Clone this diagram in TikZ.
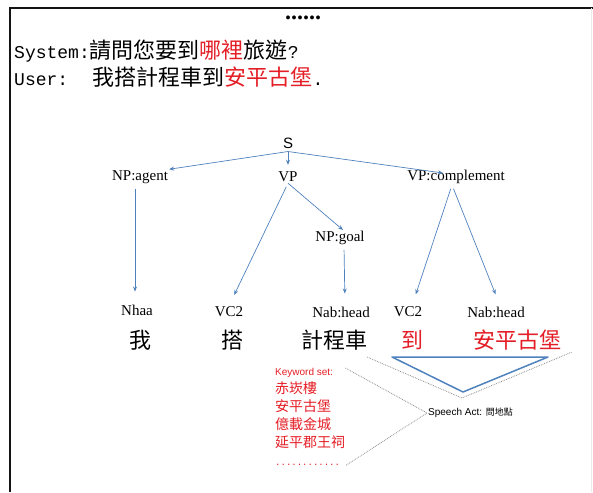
\documentclass[tikz,border=0pt]{standalone}
\usepackage{fontspec}
\setmainfont{Liberation Serif}
\setsansfont{Liberation Sans}
\newfontfamily\mono{Liberation Mono}
\newfontfamily\cjk{Noto Sans CJK TC}
\usetikzlibrary{positioning,arrows.meta,calc}
\definecolor{tsBlue}{RGB}{79,129,189}
\definecolor{tsRed}{RGB}{228,30,38}
\definecolor{tsGray}{RGB}{140,140,140}
\definecolor{tsFrame}{RGB}{20,20,20}

\begin{document}
\begin{tikzpicture}[x=1pt, y=-1pt,
  lbl/.style={font=\fontsize{15}{17}\selectfont, inner sep=1pt},
  word/.style={font=\cjk\fontsize{22}{24}\selectfont, inner sep=0pt},
  arr/.style={tsBlue, line width=0.7pt, -{Stealth[length=5pt, width=4pt]}},
  arrL/.style={arr, shorten <=4pt, shorten >=12pt},
  dots/.style={tsGray, densely dotted, line width=0.8pt}]
  \useasboundingbox (0,0) rectangle (593,492);

  % frame
  \draw[tsFrame, line width=1.2pt] (593,8) -- (10,8) -- (10,492);
  \draw[black!8, line width=1pt] (591,8) -- (591,492);

  % dialogue
  \node[font=\bfseries\fontsize{24}{24}\selectfont, inner sep=0pt] (more) at (303,18) {......};
  \node[anchor=west, inner sep=0pt, font=\mono\fontsize{18}{20}\selectfont] (sys) at (14,51)
    {System:{\cjk\fontsize{22}{24}\selectfont 請問您要到\textcolor{tsRed}{哪裡}旅遊}?};
  \node[anchor=west, inner sep=0pt, font=\mono\fontsize{18}{20}\selectfont] (usr) at (14,77)
    {User: \hspace{10pt}{\cjk\fontsize{22}{24}\selectfont 我搭計程車到\textcolor{tsRed}{安平古堡}}.};

  % tree
  \node[font=\sffamily\fontsize{15}{17}\selectfont, inner sep=3pt] (s) at (288,143) {S};
  \node[lbl] (npA) at (140,177) {NP:agent};
  \node[lbl] (vp) at (288,177) {VP};
  \node[lbl] (vpc) at (456,177) {VP:complement};
  \node[lbl] (npG) at (340,238) {NP:goal};
  \node[lbl] (nhaa) at (137,310) {Nhaa};
  \node[lbl] (vc2a) at (229,312) {VC2};
  \node[lbl] (nabA) at (341,312) {Nab:head};
  \node[lbl] (vc2b) at (408,312) {VC2};
  \node[lbl] (nabB) at (496,312) {Nab:head};

  \draw[arr] (s.south) -- (npA.north east);
  \draw[arr] (s.south) -- ([yshift=6pt]vp.north);
  \draw[arr] (s.south) -- ([xshift=-13pt, yshift=-4pt]vpc.north);
  \draw[arr] (vp.south) -- ([xshift=3pt]npG.north);
  \draw[arrL] ([xshift=-5pt]npA.south) -- ([xshift=-2pt]nhaa.north);
  \draw[arrL] (vp.south) -- (vc2a.north);
  \draw[arrL] ([xshift=4pt]npG.south) -- ([xshift=4pt]nabA.north);
  \draw[arrL] ([xshift=-4pt]vpc.south) -- ([xshift=4pt]vc2b.north);
  \draw[arrL] ([xshift=-4pt]vpc.south) -- ([xshift=4pt]nabB.north);

  % words
  \node[word] (w1) at (140,340) {我};
  \node[word] (w2) at (232,340) {搭};
  \node[word] (w3) at (334,340) {計程車};
  \node[word, text=tsRed] (w4) at (412,340) {到};
  \node[word, text=tsRed] (w5) at (517,340) {安平古堡};

  % keyword triangle
  \draw[tsBlue, line width=1.5pt, line join=round] (392,357) -- (548,357) -- (463,392) -- cycle;
  \draw[dots] (367,357) -- (462,398) -- (572,352);

  % keyword set and speech act
  \node[anchor=north west, align=left, inner sep=0pt, text=tsRed,
    font=\cjk\fontsize{14}{18}\selectfont] (kw) at (275,368)
    {{\sffamily\fontsize{10}{12}\selectfont Keyword set:}\\ 赤崁樓\\ 安平古堡\\ 億載金城\\ 延平郡王祠\\
     {\mono\fontsize{9}{12}\selectfont ............}};
  \node[anchor=west, inner sep=1pt, font=\sffamily\fontsize{10}{12}\selectfont] (sa) at (427,413)
    {Speech Act: {\cjk\fontsize{9}{12}\selectfont 問地點}};
  \draw[dots] (kw.north east) -- (sa.west);
  \draw[dots] (sa.west) -- (kw.south east);
\end{tikzpicture}
\end{document}
